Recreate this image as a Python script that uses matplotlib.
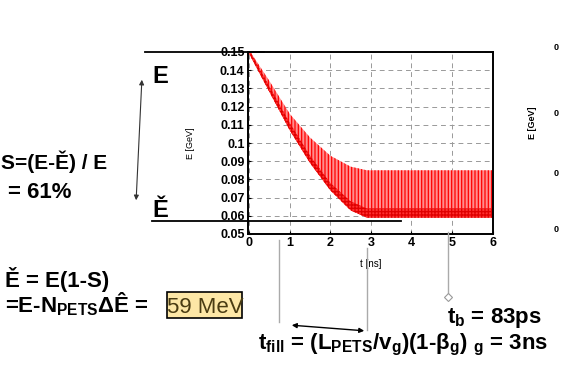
import matplotlib
matplotlib.use('Agg')
import matplotlib.pyplot as plt
from matplotlib.patches import FancyArrowPatch, Rectangle

plt.rcParams['font.family'] = ['Liberation Sans', 'DejaVu Sans']
plt.rcParams['font.weight'] = 'bold'
plt.rcParams['mathtext.fontset'] = 'custom'
plt.rcParams['mathtext.rm'] = 'Liberation Sans:bold'
plt.rcParams['mathtext.it'] = 'Liberation Sans:bold'
plt.rcParams['mathtext.bf'] = 'Liberation Sans:bold'
plt.rcParams['hatch.linewidth'] = 0.9

# energy band of the bunches
t_ns = [0.0, 0.5, 1.0, 1.5, 2.0, 2.5, 2.9, 3.5, 4.0, 5.0, 6.0]
e_upper = [0.151, 0.134, 0.116, 0.103, 0.093, 0.087, 0.085, 0.085, 0.085, 0.085, 0.085]
e_lower = [0.149, 0.128, 0.107, 0.089, 0.074, 0.063, 0.059, 0.059, 0.059, 0.059, 0.059]
e_dense = [0.151, 0.131, 0.111, 0.093, 0.078, 0.068, 0.064, 0.064, 0.064, 0.064, 0.064]

xticks = [0, 1, 2, 3, 4, 5, 6]
yticks = [0.05, 0.06, 0.07, 0.08, 0.09, 0.1, 0.11, 0.12, 0.13, 0.14, 0.15]
ytick_labels = ['0.05', '0.06', '0.07', '0.08', '0.09', '0.1', '0.11', '0.12', '0.13', '0.14', '0.15']

W, H = 561, 373
fig = plt.figure(figsize=(W / 100, H / 100), dpi=100)

ax = fig.add_axes([248 / W, 1 - 234 / H, 245 / W, 182 / H])
ax.fill_between(t_ns, e_lower, e_upper, facecolor='#ff8e8e', edgecolor='#ff0000',
                hatch='|||||', linewidth=0, zorder=2)
ax.fill_between(t_ns, e_lower, e_dense, facecolor='#ff3030', edgecolor='#e00000',
                hatch='+++++', linewidth=0, zorder=2)
ax.set_xlim(-0.03, 6.01)
ax.set_ylim(0.05, 0.15)
ax.set_xticks(xticks)
ax.set_yticks(yticks)
ax.set_yticklabels(ytick_labels)
ax.tick_params(direction='in', length=2.5, labelsize=9, pad=2.5, width=0.8)
ax.grid(True, color='#999999', linestyle=(0, (5, 4)), linewidth=0.7, zorder=1)
for sp in ax.spines.values():
    sp.set_linewidth(1.4)
ax.set_xlabel('t [ns]', fontsize=7)
ax.set_ylabel('E [GeV]', fontsize=6.5)
ax.xaxis.set_label_coords(0.5, -0.14)
ax.yaxis.set_label_coords(-0.216, 0.5)

# overlay in pixel coordinates for the slide annotations
ov = fig.add_axes([0, 0, 1, 1], zorder=5)
ov.set_xlim(0, W)
ov.set_ylim(H, 0)
ov.axis('off')
ov.patch.set_alpha(0)

ov.plot([145, 264], [52, 52], color='black', lw=1.3)
ov.plot([152, 401], [221, 221], color='black', lw=1.3)
ov.add_patch(FancyArrowPatch((142, 77), (136, 203), arrowstyle='<|-|>', mutation_scale=7,
                             color='#333333', lw=0.8))
ov.text(152, 83, 'E', fontsize=17, ha='left', va='baseline')
ov.text(152, 217, 'Ě', fontsize=17, ha='left', va='baseline')

ov.text(1, 169, 'S=(E-Ě) / E', fontsize=15, ha='left', va='baseline')
ov.text(72, 198, '= 61%', fontsize=16, ha='right', va='baseline')

ov.text(5, 287, 'Ě = E(1-S)', fontsize=16, ha='left', va='baseline')
ov.text(5, 312, r'=E-N$_\mathregular{PETS}$ΔÊ = ', fontsize=16, ha='left', va='baseline')
ov.add_patch(Rectangle((167, 292), 75, 26, facecolor='#fde7a6', edgecolor='black', lw=1.2))
ov.text(167, 313, '59 MeV', fontsize=16, ha='left', va='baseline', color='#4a3c12',
        fontweight='normal', clip_on=False)

ov.plot([279, 279], [240, 322], color='#aaaaaa', lw=1)
ov.plot([367, 367], [248, 330], color='#aaaaaa', lw=1)
ov.plot([448, 448], [232, 294], color='#aaaaaa', lw=1)
ov.plot([448], [297], marker='D', ms=4, mfc='white', mec='#999999', mew=0.8)
ov.add_patch(FancyArrowPatch((289, 325), (367, 331), arrowstyle='<|-|>', mutation_scale=7,
                             color='black', lw=1))

ov.text(447, 323, r'$\mathrm{t_b}$ = 83ps', fontsize=16, ha='left', va='baseline')
ov.text(258, 349, r'$\mathrm{t_{fill}}$ = (L$_\mathregular{PETS}$/v$_\mathregular{g}$)(1-β$_\mathregular{g}$) $_\mathregular{g}$ = 3ns',
        fontsize=16, ha='left', va='baseline')

# neighbouring chart cut off at the right edge
ov.text(533, 123, 'E [GeV]', fontsize=6.5, rotation=90, ha='center', va='center')
for yy in [48, 113, 173, 230]:
    ov.text(554, yy, '0', fontsize=6.5, ha='left', va='center')

fig.savefig('out.png', dpi=100)
